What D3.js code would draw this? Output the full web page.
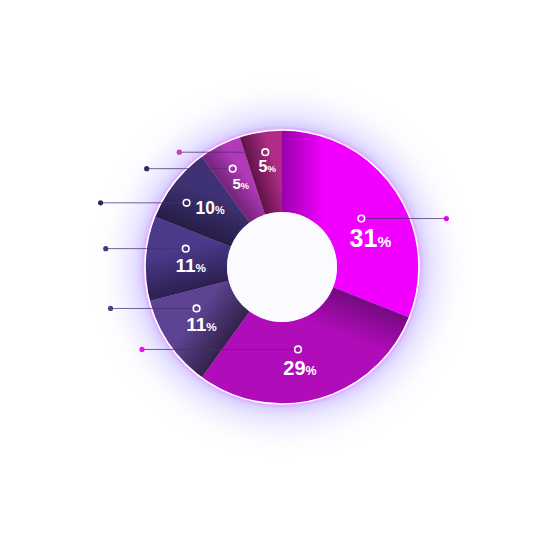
<!DOCTYPE html>
<html><head><meta charset="utf-8">
<script src="https://cdn.jsdelivr.net/npm/d3@7"></script>
<style>html,body{margin:0;padding:0;background:#fff;}svg{display:block;}</style>
</head><body><div id="chart"></div>
<script>
// ---- data ----
const sliceShares = [31, 29, 11, 10, 9, 5, 5];      // share of the ring each slice covers (as drawn)
const pctLabels   = [31, 29, 11, 11, 10, 5, 5];     // printed percentages

// ---- styles / layout ----
const lightColors = ["#f200ff", "#b10cba", "#5f4393", "#4b3989", "#3f3274", "#b23aba", "#b02c88"];
const darkColors  = ["#9a00ac", "#740a80", "#33224a", "#2c1f50", "#261d46", "#742278", "#601246"];
const dotColors   = ["#e600f2", "#e812f0", "#5a3e8a", "#4a3585", "#33285e", "#33285e", "#c43cc4"];
const markerFrac  = [0.525, 0.55, 0.71, 0.70, 0.38, 0.52, 0.54];
const markerRad   = [93, 84, 95, 98, 115, 110, 116];
const leaderLen   = [85, 156, 86, 80, 86, 86, 86];
const leaderSide  = [1, -1, -1, -1, -1, -1, -1];
const labelSize   = [25, 20, 19, 19, 17.5, 15, 16];
const labelDx     = [9, 2, 5, 5, 9, 8, 2];
const labelDy     = [28, 26, 23, 23, 11, 20, 20];
const labelAnchor = ["middle","middle","middle","middle","start","middle","middle"];

const W = 560, H = 560, cx = 282, cy = 267, R = 137, r0 = 55;

const svg = d3.select("#chart").append("svg").attr("width", W).attr("height", H);
const defs = svg.append("defs");

const glow = defs.append("filter").attr("id","glow").attr("x","-50%").attr("y","-50%").attr("width","200%").attr("height","200%");
glow.append("feGaussianBlur").attr("stdDeviation", 17);
const glow2 = defs.append("filter").attr("id","glow2").attr("x","-50%").attr("y","-50%").attr("width","200%").attr("height","200%");
glow2.append("feGaussianBlur").attr("stdDeviation", 6);
const rim = defs.append("filter").attr("id","rim").attr("x","-20%").attr("y","-20%").attr("width","140%").attr("height","140%");
rim.append("feGaussianBlur").attr("stdDeviation", 1.2);

const g = svg.append("g").attr("transform", `translate(${cx},${cy})`);

// glow behind ring
g.append("circle").attr("r", R + 16).attr("fill", "#b0a2ff").attr("opacity", 0.5).attr("filter","url(#glow)");
g.append("circle").attr("r", R + 4).attr("fill", "#b7a8ff").attr("opacity", 0.45).attr("filter","url(#glow2)");
g.append("circle").attr("r", R + 1.5).attr("fill", "none").attr("stroke", "#f590ff").attr("stroke-width", 2.5).attr("opacity", 0.6).attr("filter","url(#rim)");

const pie = d3.pie().sort(null).value(d => d);
const arcs = pie(sliceShares);
const arc = d3.arc().innerRadius(r0).outerRadius(R);

arcs.forEach((d, i) => {
  const a0 = d.startAngle, rm = (R + r0) / 2;
  const x0 = Math.sin(a0) * rm, y0 = -Math.cos(a0) * rm;
  const L = Math.min(42, (d.endAngle - d.startAngle) * rm * 0.85);
  const x1 = x0 + Math.cos(a0) * L, y1 = y0 + Math.sin(a0) * L;
  const grad = defs.append("linearGradient").attr("id", "sg" + i)
    .attr("gradientUnits", "userSpaceOnUse")
    .attr("x1", x0).attr("y1", y0).attr("x2", x1).attr("y2", y1);
  grad.append("stop").attr("offset", 0).attr("stop-color", darkColors[i]);
  grad.append("stop").attr("offset", 1).attr("stop-color", lightColors[i]);
});

g.selectAll("path.slice").data(arcs).join("path").attr("class","slice")
  .attr("d", arc).attr("fill", (d, i) => `url(#sg${i})`);

// white rim
g.append("circle").attr("r", R).attr("fill","none").attr("stroke","#fff").attr("stroke-width",1.6);
// hole
g.append("circle").attr("r", r0).attr("fill", "#fbfaff");

// markers & leaders
const pts = arcs.map((d, i) => {
  const a = d.startAngle + (d.endAngle - d.startAngle) * markerFrac[i];
  const x = Math.sin(a) * markerRad[i], y = -Math.cos(a) * markerRad[i];
  return {x, y, ex: x + leaderSide[i] * leaderLen[i], i};
});

g.selectAll("line.leader").data(pts).join("line").attr("class","leader")
  .attr("x1", p => p.x + (p.ex > p.x ? 3.5 : -3.5)).attr("y1", p => p.y)
  .attr("x2", p => p.ex).attr("y2", p => p.y)
  .attr("stroke", "#4a2f70").attr("stroke-opacity", 0.75).attr("stroke-width", 1);
g.selectAll("circle.dot").data(pts).join("circle").attr("class","dot")
  .attr("cx", p => p.ex).attr("cy", p => p.y).attr("r", 2.6).attr("fill", p => dotColors[p.i]);
g.selectAll("circle.mk").data(pts).join("circle").attr("class","mk")
  .attr("cx", p => p.x).attr("cy", p => p.y).attr("r", 3.3)
  .attr("fill","none").attr("stroke","#fff").attr("stroke-width",1.6);

// labels
const t = g.selectAll("text.lbl").data(pts).join("text").attr("class","lbl")
  .attr("x", p => p.x + labelDx[p.i]).attr("y", p => p.y + labelDy[p.i])
  .attr("text-anchor", p => labelAnchor[p.i])
  .attr("font-family", "'Liberation Sans', Arial, sans-serif").attr("font-weight", "bold")
  .attr("fill", "#fff").attr("font-size", p => labelSize[p.i]);
t.append("tspan").text(p => pctLabels[p.i]);
t.append("tspan").attr("font-size", p => labelSize[p.i] * 0.62).text("%");
</script>
</body></html>
